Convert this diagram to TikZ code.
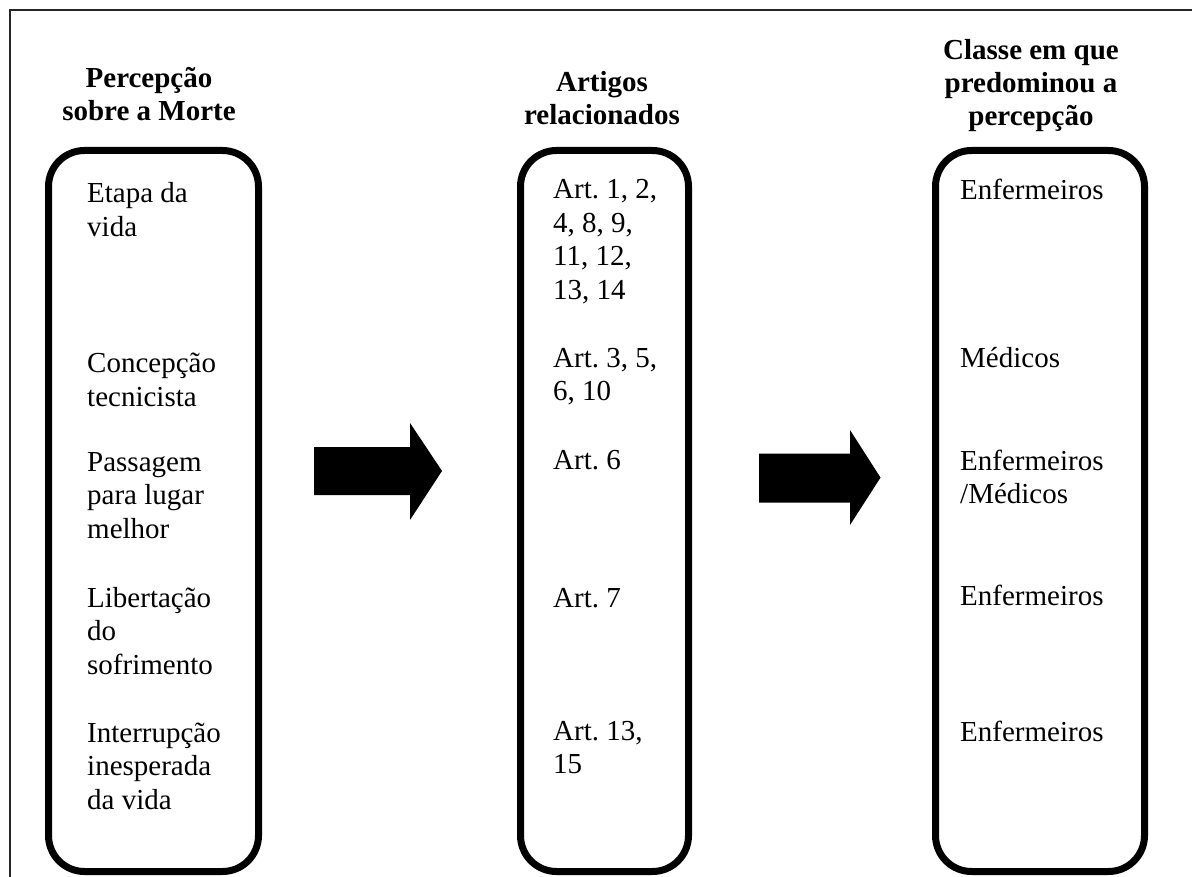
\documentclass[tikz,border=0pt]{standalone}
\usepackage{fontspec}
\setmainfont{Liberation Serif}
\frenchspacing
\newcommand{\ctxt}[1]{\parbox[t]{200pt}{\raggedright\frenchspacing #1}}
\newcommand{\htxt}[1]{\parbox[t]{300pt}{\centering #1}}
\begin{document}
\begin{tikzpicture}[x=1pt,y=-1pt,
  colbox/.style={draw=black, line width=7pt, rounded corners=36pt, minimum height=721pt, inner sep=0pt},
  txt/.style={anchor=base west, inner sep=0pt, font=\fontsize{29}{33.5}\selectfont},
  head/.style={anchor=base, inner sep=0pt, font=\fontsize{29}{33}\selectfont\bfseries},
  blockarrow/.style={fill=black}]
\useasboundingbox (0,0) rectangle (1192,877);
\clip (0,0) rectangle (1192,877);
\fill[white] (0,0) rectangle (1192,877);
\draw[line width=1.5pt, black!85] (10,10) rectangle (1260,960);

% headings
\node[head] (h1) at (149,88) {\htxt{Percepção\\sobre a Morte}};
\node[head] (h2) at (602,92) {\htxt{Artigos\\relacionados}};
\node[head] (h3) at (1031,60) {\htxt{Classe em que\\predominou a\\percepção}};

% boxes
\node[colbox, minimum width=210pt] (b1) at (153.5,511) {};
\node[colbox, minimum width=168pt] (b2) at (604.5,511) {};
\node[colbox, minimum width=209pt] (b3) at (1040,511) {};

% column 1
\node[txt] (p1) at (87,203) {\ctxt{Etapa da\\vida}};
\node[txt] (p2) at (87,373) {\ctxt{Concepção\\tecnicista}};
\node[txt] (p3) at (87,471) {\ctxt{Passagem\\para lugar\\melhor}};
\node[txt] (p4) at (87,607) {\ctxt{Libertação\\do\\sofrimento}};
\node[txt] (p5) at (87,742) {\ctxt{Interrupção\\inesperada\\da vida}};

% column 2
\node[txt] (a1) at (553,199) {\ctxt{Art. 1, 2,\\4, 8, 9,\\11, 12,\\13, 14}};
\node[txt] (a2) at (553,367) {\ctxt{Art. 3, 5,\\6, 10}};
\node[txt] (a3) at (553,469) {\ctxt{Art. 6}};
\node[txt] (a4) at (553,607) {\ctxt{Art. 7}};
\node[txt] (a5) at (553,740) {\ctxt{Art. 13,\\15}};

% column 3
\node[txt] (c1) at (960,200) {\ctxt{Enfermeiros}};
\node[txt] (c2) at (960,368) {\ctxt{Médicos}};
\node[txt] (c3) at (960,470) {\ctxt{Enfermeiros\\/Médicos}};
\node[txt] (c4) at (960,605) {\ctxt{Enfermeiros}};
\node[txt] (c5) at (960,741) {\ctxt{Enfermeiros}};

% block arrows
\fill[blockarrow] (314,447) -- (410,447) -- (410,423) -- (442,471) -- (410,520) -- (410,495) -- (314,495) -- cycle;
\fill[blockarrow] (759,453.5) -- (850,453.5) -- (850,430) -- (880.5,477.6) -- (850,525) -- (850,502.5) -- (759,502.5) -- cycle;
\end{tikzpicture}
\end{document}
